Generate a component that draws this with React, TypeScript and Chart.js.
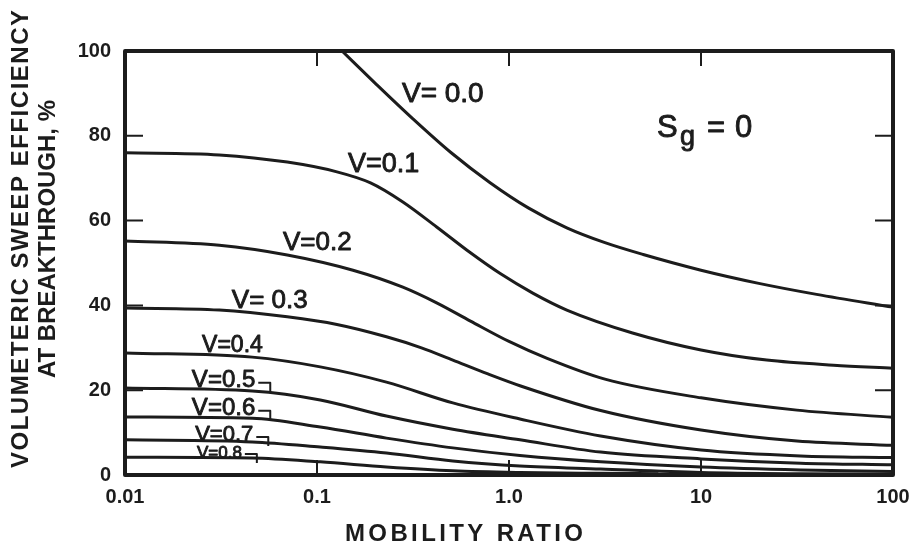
import React, { useEffect, useRef } from 'react';
import { Chart, registerables } from 'chart.js';

Chart.register(...registerables);

// ---- data (mobility ratio, volumetric sweep efficiency %) ----
const v00: [number, number][] = [[0.135, 100], [0.2, 92.5], [0.316, 84], [0.5, 76], [0.794, 69], [1.26, 63], [2, 58.3], [3.16, 54.8], [5, 52], [10, 48.3], [20, 45.2], [40, 42.6], [100, 39.6]];
const v01: [number, number][] = [[0.01, 76], [0.031, 75.5], [0.07, 73.8], [0.127, 71.5], [0.19, 68.9], [0.28, 64.4], [0.42, 58.5], [0.63, 52.4], [0.9, 47.5], [1.33, 42.9], [2, 38.9], [4.4, 33.5], [10, 29.5], [22, 27.1], [49, 25.9], [100, 25.2]];
const v02: [number, number][] = [[0.01, 55.2], [0.031, 54.2], [0.07, 51.9], [0.154, 48.3], [0.28, 44.3], [0.42, 40.6], [0.63, 36.3], [1, 31.5], [1.58, 27.5], [3.16, 22.6], [10, 18.2], [31.6, 15.3], [100, 13.6]];
const v03: [number, number][] = [[0.01, 39.4], [0.031, 38.9], [0.07, 37.3], [0.127, 35.5], [0.23, 32.6], [0.35, 30], [0.51, 27.1], [0.77, 23.9], [1.15, 21], [3, 15.2], [10, 10.6], [31.6, 8], [100, 7]];
const v04: [number, number][] = [[0.01, 28.8], [0.046, 27.8], [0.104, 25.5], [0.23, 21.9], [0.51, 17], [1.14, 13.2], [3, 9.2], [10, 5.9], [33, 4.5], [100, 4.1]];
const v05: [number, number][] = [[0.01, 20.5], [0.046, 19.8], [0.104, 17.7], [0.23, 13.9], [0.51, 10.8], [1.14, 8.3], [3, 5.4], [10, 3.8], [33, 2.8], [100, 2.4]];
const v06: [number, number][] = [[0.01, 13.7], [0.046, 13.4], [0.104, 11.3], [0.23, 8.7], [0.51, 6.4], [1.14, 4.6], [3, 3.1], [10, 1.9], [33, 1.2], [100, 0.8]];
const v07: [number, number][] = [[0.01, 8.3], [0.046, 7.8], [0.104, 6.6], [0.23, 5.2], [0.51, 3.3], [1.14, 2.1], [3, 1.4], [10, 0.6], [33, 0.3], [100, 0.2]];
const v08: [number, number][] = [[0.01, 4.2], [0.046, 4], [0.104, 3.1], [0.23, 1.9], [0.51, 1], [1.14, 0.6], [3, 0.4], [6, 0.3]];

const seriesNames = ['V=0.0', 'V=0.1', 'V=0.2', 'V=0.3', 'V=0.4', 'V=0.5', 'V=0.6', 'V=0.7', 'V=0.8'];
const seriesData = [v00, v01, v02, v03, v04, v05, v06, v07, v08];

const xTickValues = [0.01, 0.1, 1, 10, 100];
const xTickLabels = ['0.01', '0.1', '1.0', '10', '100'];
const yTickValues = [0, 20, 40, 60, 80, 100];

// curve labels: text, left x (mobility), baseline y (%), font size, hook
const labelTexts = ['V= 0.0', 'V=0.1', 'V=0.2', 'V= 0.3', 'V=0.4', 'V=0.5', 'V=0.6', 'V=0.7', 'V=0.8'];
const labelX = [0.277, 0.145, 0.0665, 0.036, 0.0252, 0.0223, 0.0223, 0.0232, 0.0237];
const labelY = [88, 71.5, 53.1, 39.4, 29, 20.8, 14.2, 8.0, 4.0];
const labelSize = [28, 27, 26, 26, 23, 24, 24, 22, 17];
const labelHook = [false, false, false, false, false, true, true, true, true];

const xTitle = 'MOBILITY RATIO';
const yTitle = ['VOLUMETERIC SWEEP EFFICIENCY', 'AT BREAKTHROUGH, %'];

const INK = '#1c1c1c';
const FONT = '"Liberation Sans", Arial, sans-serif';

function fitText(ctx: CanvasRenderingContext2D, text: string, target: number) {
  (ctx as any).letterSpacing = '0px';
  const w = ctx.measureText(text).width;
  const ls = (target - w) / Math.max(1, text.length - 1);
  (ctx as any).letterSpacing = ls + 'px';
  return ls;
}

function heavyText(ctx: CanvasRenderingContext2D, t: string, x: number, y: number) {
  ctx.fillText(t, x, y);
  ctx.lineWidth = 0.9;
  ctx.strokeText(t, x, y);
}

const decorPlugin = {
  id: 'decor',
  afterDraw(chart: any) {
    const { ctx, chartArea: a } = chart;
    const xs = chart.scales.x;
    const ys = chart.scales.y;
    ctx.save();
    ctx.strokeStyle = INK;
    ctx.fillStyle = INK;
    ctx.lineJoin = 'round';
    // frame
    ctx.lineWidth = 4;
    ctx.strokeRect(a.left, a.top, a.right - a.left, a.bottom - a.top);
    // inward ticks
    ctx.lineWidth = 2;
    ctx.beginPath();
    xTickValues.forEach((v) => {
      const px = xs.getPixelForValue(v);
      if (px > a.left + 3 && px < a.right - 3) {
        ctx.moveTo(px, a.bottom);
        ctx.lineTo(px, a.bottom - 15);
        ctx.moveTo(px, a.top);
        ctx.lineTo(px, a.top + 15);
      }
    });
    yTickValues.forEach((v) => {
      const py = ys.getPixelForValue(v);
      if (py > a.top + 3 && py < a.bottom - 3) {
        ctx.moveTo(a.left, py);
        ctx.lineTo(a.left + 18, py);
        ctx.moveTo(a.right, py);
        ctx.lineTo(a.right - 18, py);
      }
    });
    ctx.stroke();

    // curve labels
    ctx.textAlign = 'left';
    ctx.textBaseline = 'alphabetic';
    labelTexts.forEach((t, i) => {
      const px = xs.getPixelForValue(labelX[i]);
      const py = ys.getPixelForValue(labelY[i]);
      ctx.font = `${labelSize[i]}px ${FONT}`;
      (ctx as any).letterSpacing = '0px';
      heavyText(ctx, t, px, py);
      if (labelHook[i]) {
        const w = ctx.measureText(t).width;
        const hx = px + w + 3;
        ctx.lineWidth = 2;
        ctx.beginPath();
        ctx.moveTo(hx, py - 4);
        ctx.lineTo(hx + 12, py - 4);
        ctx.lineTo(hx + 12, py + 5);
        ctx.stroke();
      }
    });

    // S_g = 0
    const sx = xs.getPixelForValue(5.9);
    const sy = ys.getPixelForValue(79.7);
    ctx.font = `31px ${FONT}`;
    heavyText(ctx, 'S', sx, sy);
    ctx.font = `27px ${FONT}`;
    heavyText(ctx, 'g', sx + 23, sy + 8);
    ctx.font = `31px ${FONT}`;
    heavyText(ctx, '=', sx + 50, sy);
    heavyText(ctx, '0', sx + 78, sy);

    // axis titles
    ctx.font = `bold 24px ${FONT}`;
    ctx.textAlign = 'left';
    ctx.textBaseline = 'middle';
    const xt = 238;
    fitText(ctx, xTitle, xt);
    ctx.fillText(xTitle, 464 - xt / 2, 534);

    const lens = [458, 278];
    const cxs = [21, 48];
    const cy = [239, 239];
    yTitle.forEach((t, i) => {
      ctx.save();
      ctx.translate(cxs[i], cy[i]);
      ctx.rotate(-Math.PI / 2);
      ctx.font = `bold 24px ${FONT}`;
      fitText(ctx, t, lens[i]);
      ctx.fillText(t, -lens[i] / 2, 0);
      ctx.restore();
    });
    (ctx as any).letterSpacing = '0px';
    ctx.restore();
  },
};

export default function App() {
  const ref = useRef<HTMLCanvasElement | null>(null);
  useEffect(() => {
    document.body.style.margin = '0';
    const canvas = ref.current!;
    const chart = new Chart(canvas, {
      type: 'line',
      data: {
        datasets: seriesData.map((d, i) => ({
          label: seriesNames[i],
          data: d.map(([x, y]) => ({ x, y })),
          borderColor: INK,
          borderWidth: 3,
          pointRadius: 0,
          fill: false,
          cubicInterpolationMode: 'monotone' as const,
        })),
      },
      options: {
        animation: false,
        responsive: false,
        devicePixelRatio: 1,
        layout: { padding: { left: 0, top: 51, right: 18, bottom: 0 } },
        plugins: { legend: { display: false }, tooltip: { enabled: false }, title: { display: false } },
        scales: {
          x: {
            type: 'logarithmic',
            min: 0.01,
            max: 100,
            grid: { display: false, drawTicks: false },
            border: { display: false },
            afterFit: (s: any) => { s.height = 76; s.paddingLeft = 0; s.paddingRight = 0; },
            afterBuildTicks: (s: any) => { s.ticks = xTickValues.map((v) => ({ value: v })); },
            ticks: {
              autoSkip: false,
              maxRotation: 0,
              padding: 10,
              color: INK,
              font: { family: FONT, size: 20, weight: 'bold' },
              callback: (v: any) => {
                const i = xTickValues.findIndex((t) => Math.abs(t - Number(v)) < 1e-9);
                return i >= 0 ? xTickLabels[i] : '';
              },
            },
          },
          y: {
            type: 'linear',
            min: 0,
            max: 100,
            grid: { display: false, drawTicks: false },
            border: { display: false },
            afterFit: (s: any) => { s.width = 125; s.paddingTop = 0; s.paddingBottom = 0; },
            ticks: {
              stepSize: 20,
              padding: 14,
              color: INK,
              font: { family: FONT, size: 20, weight: 'bold' },
            },
          },
        },
      },
      plugins: [decorPlugin],
    });
    return () => chart.destroy();
  }, []);
  return (
    <div style={{ width: 911, height: 551, background: '#fff' }}>
      <canvas ref={ref} width={911} height={551} />
    </div>
  );
}
